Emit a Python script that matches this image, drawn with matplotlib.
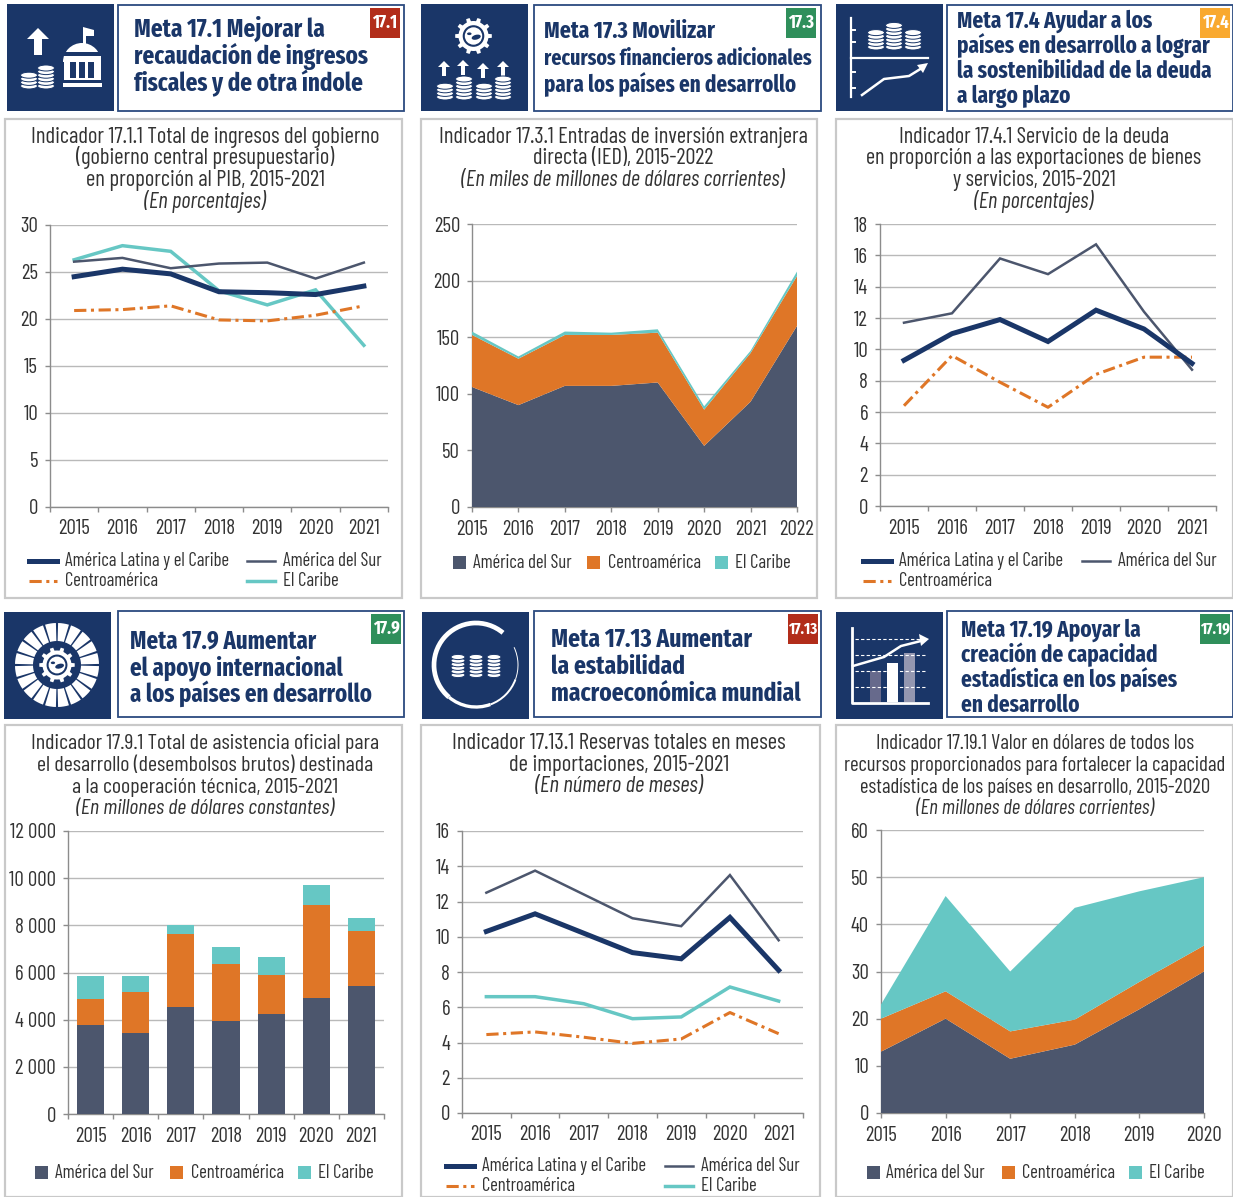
import matplotlib
matplotlib.use('Agg')
import numpy as np
from matplotlib import pyplot as plt
from matplotlib.patches import Rectangle, Circle, Ellipse, Wedge, Polygon, Arc

W, H = 1233, 1197
NAVY = '#1a3668'
SUR = '#4c566d'
ORANGE = '#df7627'
TEAL = '#66c7c4'
TXT = '#333333'
RED = '#b22d1a'
GREEN = '#2f8f5b'
AMBER = '#f9a92f'
BODY = ['Barlow Condensed', 'Roboto Condensed', 'Liberation Sans Narrow', 'DejaVu Sans']
HEAD = ['Fira Sans Extra Condensed', 'Fira Sans Condensed', 'Roboto Condensed', 'DejaVu Sans']
plt.rcParams['font.family'] = BODY
TICK_SIZE = 15
LEG_SIZE = 13.4

# datos
years_15_21 = ['2015', '2016', '2017', '2018', '2019', '2020', '2021']
years_15_22 = years_15_21 + ['2022']
years_15_20 = years_15_21[:-1]

p1_lac = [24.5, 25.3, 24.8, 22.9, 22.8, 22.6, 23.5]
p1_sur = [26.1, 26.5, 25.4, 25.9, 26.0, 24.3, 26.0]
p1_cen = [20.9, 21.0, 21.4, 19.9, 19.8, 20.4, 21.4]
p1_car = [26.3, 27.8, 27.2, 23.0, 21.5, 23.1, 17.2]

p2_sur = [106, 90, 107, 107, 110, 54, 93, 160]
p2_cen = [46, 41, 45, 45, 44, 32, 43, 44]
p2_car = [3, 2, 3, 2, 3, 3, 2, 4]

p3_lac = [9.3, 11.0, 11.9, 10.5, 12.5, 11.3, 9.1]
p3_sur = [11.7, 12.3, 15.8, 14.8, 16.7, 12.4, 8.7]
p3_cen = [6.4, 9.6, 7.9, 6.3, 8.4, 9.5, 9.5]

p4_sur = [3780, 3420, 4520, 3950, 4230, 4920, 5430]
p4_cen = [1090, 1760, 3130, 2420, 1650, 3930, 2320]
p4_car = [980, 670, 350, 720, 780, 870, 540]

p5_lac = [10.3, 11.3, 10.2, 9.1, 8.75, 11.1, 8.1]
p5_sur = [12.5, 13.75, 12.4, 11.05, 10.6, 13.5, 9.8]
p5_cen = [4.45, 4.6, 4.3, 3.95, 4.2, 5.7, 4.5]
p5_car = [6.6, 6.6, 6.2, 5.35, 5.45, 7.15, 6.35]

p6_sur = [13, 20, 11.5, 14.5, 22, 30]
p6_cen = [7, 5.8, 5.8, 5.3, 5.8, 5.5]
p6_car = [3, 20.2, 12.7, 23.7, 19.2, 14.5]

ticks_p1 = [0, 5, 10, 15, 20, 25, 30]
ticks_p2 = [0, 50, 100, 150, 200, 250]
ticks_p3 = [0, 2, 4, 6, 8, 10, 12, 14, 16, 18]
ticks_p4 = [0, 2000, 4000, 6000, 8000, 10000, 12000]
labels_p4 = ['0', '2 000', '4 000', '6 000', '8 000', '10 000', '12 000']
ticks_p5 = [0, 2, 4, 6, 8, 10, 12, 14, 16]
ticks_p6 = [0, 10, 20, 30, 40, 50, 60]

name_lac = 'América Latina y el Caribe'
name_sur = 'América del Sur'
name_cen = 'Centroamérica'
name_car = 'El Caribe'

fig = plt.figure(figsize=(W / 100, H / 100), dpi=100, facecolor='white')
bg = fig.add_axes([0, 0, 1, 1])
bg.set_xlim(0, W)
bg.set_ylim(H, 0)
bg.axis('off')


def rect(x0, y0, x1, y1, **kw):
    bg.add_patch(Rectangle((x0, y0), x1 - x0, y1 - y0, **kw))


def chart_axes(x0, y0, x1, y1):
    ax = fig.add_axes([x0 / W, 1 - y1 / H, (x1 - x0) / W, (y1 - y0) / H])
    ax.patch.set_alpha(0)
    for s in ['top', 'right']:
        ax.spines[s].set_visible(False)
    for s in ['left', 'bottom']:
        ax.spines[s].set_color('#8c8c8c')
        ax.spines[s].set_linewidth(1)
    ax.grid(axis='y', color='#b9b9b9', lw=1)
    ax.set_axisbelow(True)
    ax.tick_params(axis='both', which='major', length=3.6, color='#8c8c8c', width=1,
                   labelsize=TICK_SIZE, labelcolor=TXT)
    return ax


def cat_axis(ax, years, yticks, ylabels=None):
    # marcas entre categorias, etiquetas centradas
    n = len(years)
    ax.set_xlim(-0.5, n - 0.5)
    ax.set_xticks(np.arange(n + 1) - 0.5)
    ax.set_xticklabels([])
    ax.set_xticks(range(n), years, minor=True)
    ax.tick_params(axis='x', which='minor', length=0, labelsize=TICK_SIZE, labelcolor=TXT, pad=9)
    ax.set_yticks(yticks, ylabels if ylabels else [str(t) for t in yticks])
    ax.set_ylim(yticks[0], yticks[-1])
    ax.tick_params(axis='y', pad=5)


def draw_lines(ax, lac, sur, cen, car=None):
    x = range(len(sur))
    if car is not None:
        ax.plot(x, car, color=TEAL, lw=2.5, solid_joinstyle='miter')
    ax.plot(x, sur, color=SUR, lw=1.8, solid_joinstyle='miter')
    ax.plot(x, cen, color=ORANGE, lw=2.2, ls=(0, (4, 1.5, 1, 1.5)))
    ax.plot(x, lac, color=NAVY, lw=3.6, solid_joinstyle='miter')


def draw_area(ax, years, sur, cen, car, yticks):
    x = range(len(years))
    ax.stackplot(x, sur, cen, car, colors=[SUR, ORANGE, TEAL], zorder=3)
    ax.set_xlim(0, len(years) - 1)
    ax.set_xticks(list(x), years)
    ax.set_yticks(yticks, [str(t) for t in yticks])
    ax.set_ylim(yticks[0], yticks[-1])
    ax.tick_params(axis='x', pad=6)
    ax.tick_params(axis='y', pad=5)


def line_legend(x1, x2, y1, y2, car=False):
    rows = [(x1, y1, NAVY, 3.6, '-', name_lac),
            (x2, y1, SUR, 1.8, '-', name_sur),
            (x1, y2, ORANGE, 2.2, (0, (4, 1.5, 1, 1.5)), name_cen)]
    if car:
        rows.append((x2, y2, TEAL, 2.5, '-', name_car))
    for x, y, c, lw, ls, name in rows:
        bg.plot([x, x + 28], [y, y], color=c, lw=lw, ls=ls)
        bg.text(x + 36, y, name, fontsize=LEG_SIZE, color=TXT, va='center')


def square_legend(xs, txs, y):
    for x, tx, c, name in zip(xs, txs, [SUR, ORANGE, TEAL], [name_sur, name_cen, name_car]):
        rect(x, y - 6.5, x + 13, y + 6.5, fc=c, ec='none')
        bg.text(tx, y + 1, name, fontsize=LEG_SIZE, color=TXT, va='center')


def header(ix, iy, bx0, by0, bx1, by1, size, lines, tx, baselines, badge, bcol, bx):
    rect(ix, iy, ix + 107, iy + 107, fc=NAVY, ec='none')
    rect(bx0, by0, bx1, by1, fc='white', ec='#2b4a7f', lw=1.3)
    sizes = size if isinstance(size, list) else [size] * len(lines)
    for s, y, fs in zip(lines, baselines, sizes):
        bg.text(tx, y, s, fontsize=fs, fontweight='bold', color=NAVY, va='baseline', family=HEAD)
    by = by0 + 3
    rect(bx, by, bx + 30, by + 30, fc=bcol, ec='none')
    bg.text(bx + 15, by + 15, badge, fontsize=13 if len(badge) < 5 else 11.5, fontweight='bold',
            color='white', ha='center', va='center', family=HEAD)


def panel(x0, y0, x1, y1, cx, size, lines, baselines):
    rect(x0, y0, x1, y1, fc='white', ec='#c9c9c9', lw=1.6)
    for s, y in zip(lines, baselines):
        italic = s.startswith('(En')
        bg.text(cx, y + 1, s, fontsize=size, color=TXT, ha='center', va='baseline',
                style='italic' if italic else 'normal')


# iconos
def coins(cx, bottom, n, rx=8.5, ry=3):
    for i in range(n):
        y = bottom - i * 3.6
        bg.add_patch(Ellipse((cx, y), rx * 2, ry * 2, fc='white', ec=NAVY, lw=0.7, zorder=3 + i * 0.01))


def arrow_up(cx, y0, y1, w=6, head=11, hh=9):
    bg.add_patch(Polygon([(cx - w / 2, y1), (cx - w / 2, y0 + hh), (cx - head, y0 + hh), (cx, y0),
                          (cx + head, y0 + hh), (cx + w / 2, y0 + hh), (cx + w / 2, y1)], fc='white', ec='none'))


def gear_globe(cx, cy, r, teeth=10):
    for a in np.arange(teeth) * 2 * np.pi / teeth:
        d = np.array([np.cos(a), np.sin(a)])
        n = np.array([-d[1], d[0]])
        p = [(cx, cy) + d * r * 0.9 + n * r * 0.15, (cx, cy) + d * r * 1.22 + n * r * 0.12,
             (cx, cy) + d * r * 1.22 - n * r * 0.12, (cx, cy) + d * r * 0.9 - n * r * 0.15]
        bg.add_patch(Polygon(p, fc='white', ec='none', zorder=3))
    bg.add_patch(Circle((cx, cy), r, fc='white', ec='none', zorder=3))
    bg.add_patch(Circle((cx, cy), r * 0.72, fc=NAVY, ec='none', zorder=3))
    bg.add_patch(Circle((cx, cy), r * 0.58, fc='white', ec='none', zorder=3))
    bg.add_patch(Ellipse((cx + r * 0.18, cy + r * 0.08), r * 0.62, r * 0.32, angle=-15, fc=NAVY, ec='none', zorder=3))
    bg.add_patch(Ellipse((cx - r * 0.28, cy - r * 0.15), r * 0.3, r * 0.18, fc=NAVY, ec='none', zorder=3))


def icon_171():
    arrow_up(38, 28, 55, w=8, head=11, hh=11)
    coins(29, 86, 4)
    coins(46, 86, 6)
    bg.add_patch(Wedge((82, 62), 19, 180, 360, fc='white', ec='none'))
    bg.add_patch(Polygon([(83, 44), (83, 27), (94, 30), (94, 36), (86, 36), (86, 44)], fc='white', ec='none'))
    rect(64, 52, 101, 56, fc=NAVY, ec='none')
    rect(64, 56, 101, 80, fc='white', ec='none')
    for x in [70, 79, 88]:
        rect(x, 62, x + 6, 78, fc=NAVY, ec='none')
    rect(63, 83, 102, 87, fc='white', ec='none')


def icon_173():
    gear_globe(473.5, 36, 15)
    for x, y0 in [(444, 61), (463, 60), (483, 63), (503, 61)]:
        arrow_up(x, y0, y0 + 15, w=4, head=6, hh=6)
    for x, n in [(445, 4), (464, 6), (484, 4), (503, 6)]:
        coins(x, 97, n)


def icon_174():
    bg.plot([851, 851], [18, 97], color='white', lw=1.6)
    bg.plot([851, 928], [58, 58], color='white', lw=1.6)
    for y in [30, 42, 72, 88]:
        bg.plot([851, 855], [y, y], color='white', lw=1.4)
    for x, n in [(876, 5), (894, 7), (913, 5)]:
        coins(x, 47, n)
    bg.plot([862, 884, 909, 922], [95, 79, 76, 68], color='white', lw=1.8)
    bg.add_patch(Polygon([(928, 63), (917, 65), (923, 73)], fc='white', ec='none'))


def icon_179():
    cx, cy = 57, 665
    for a in np.arange(20) * 18.0:
        bg.add_patch(Wedge((cx, cy), 42, a + 1.5, a + 16.5, width=18, fc='white', ec='none'))
    gear_globe(cx, cy, 14.5)


def icon_1713():
    cx, cy = 476, 665
    # aro que se adelgaza hacia la derecha
    for t1, t2, lw in [(130, 310, 3.4), (70, 130, 2.4), (20, 70, 1.4), (-25, 20, 0.7)]:
        bg.add_patch(Arc((cx, cy), 84, 84, theta1=t1, theta2=t2, color='white', lw=lw))
    for x in [458, 476, 494]:
        coins(x, 675, 6, rx=7, ry=2.6)


def icon_1719():
    bg.plot([852, 852, 928], [628, 703, 703], color='white', lw=2)
    for y in [639, 655, 671, 687]:
        bg.plot([855, 925], [y, y], color='white', lw=0.8, ls=(0, (3, 2)))
    rect(870, 671, 881, 702, fc='#676a8c', ec='none')
    rect(887, 663, 898, 702, fc='white', ec='none')
    rect(904, 653, 915, 702, fc='#9497b0', ec='none')
    bg.plot([853, 884, 901, 925], [666, 657, 646, 640], color='white', lw=1.8)
    bg.add_patch(Polygon([(929, 639), (919, 634), (921, 646)], fc='white', ec='none'))


# encabezados
header(7, 4, 118, 5, 404, 111, 18.1, ['Meta 17.1 Mejorar la', 'recaudación de ingresos', 'fiscales y de otra índole'],
       134, [37, 64, 91], '17.1', RED, 370)
header(421, 4, 534, 5, 821, 111, [17, 15.6, 16.4], ['Meta 17.3 Movilizar', 'recursos financieros adicionales', 'para los países en desarrollo'],
       544, [38, 65, 92], '17.3', GREEN, 786)
header(836, 4, 947, 5, 1233, 111, 16.6, ['Meta 17.4 Ayudar a los', 'países en desarrollo a lograr', 'la sostenibilidad de la deuda', 'a largo plazo'],
       957, [28, 53, 78, 103], '17.4', AMBER, 1200)
header(4, 612, 118, 611, 404, 717, 17.8, ['Meta 17.9 Aumentar', 'el apoyo internacional', 'a los países en desarrollo'],
       130, [648, 675, 702], '17.9', GREEN, 371)
header(422, 612, 534, 611, 821, 717, 18.4, ['Meta 17.13 Aumentar', 'la estabilidad', 'macroeconómica mundial'],
       551, [647, 674, 701], '17.13', RED, 788)
header(836, 612, 947, 611, 1233, 717, 16.6, ['Meta 17.19 Apoyar la', 'creación de capacidad', 'estadística en los países', 'en desarrollo'],
       961, [637, 662, 687, 712], '17.19', GREEN, 1200)
icon_171()
icon_173()
icon_174()
icon_179()
icon_1713()
icon_1719()

# paneles
panel(5, 119, 402, 598, 205, 16.3, ['Indicador 17.1.1 Total de ingresos del gobierno', '(gobierno central presupuestario)',
                                    'en proporción al PIB, 2015-2021', '(En porcentajes)'], [142, 163, 185, 207])
panel(421, 119, 817, 598, 623, 16.2, ['Indicador 17.3.1 Entradas de inversión extranjera', 'directa (IED), 2015-2022',
                                      '(En miles de millones de dólares corrientes)'], [142, 163, 185])
panel(836, 119, 1233, 598, 1034, 16, ['Indicador 17.4.1 Servicio de la deuda', 'en proporción a las exportaciones de bienes',
                                      'y servicios, 2015-2021', '(En porcentajes)'], [142, 163, 185, 207])
panel(5, 725, 402, 1197, 205, 15.9, ['Indicador 17.9.1 Total de asistencia oficial para', 'el desarrollo (desembolsos brutos) destinada',
                                     'a la cooperación técnica, 2015-2021', '(En millones de dólares constantes)'], [748, 770, 792, 813])
panel(421, 725, 820, 1197, 619, 16.5, ['Indicador 17.13.1 Reservas totales en meses', 'de importaciones, 2015-2021',
                                       '(En número de meses)'], [748, 770, 791])
panel(836, 725, 1233, 1197, 1035, 15, ['Indicador 17.19.1 Valor en dólares de todos los', 'recursos proporcionados para fortalecer la capacidad',
                                       'estadística de los países en desarrollo, 2015-2020', '(En millones de dólares corrientes)'], [748, 770, 792, 813])

# graficos
ax = chart_axes(50, 225, 388, 507)
cat_axis(ax, years_15_21, ticks_p1)
draw_lines(ax, p1_lac, p1_sur, p1_cen, p1_car)
line_legend(29, 247, 561, 581, car=True)

ax = chart_axes(472, 224, 797, 507)
draw_area(ax, years_15_22, p2_sur, p2_cen, p2_car, ticks_p2)
square_legend([453, 587, 715], [473, 608, 735], 562)

ax = chart_axes(880, 224, 1216, 506)
cat_axis(ax, years_15_21, ticks_p3)
draw_lines(ax, p3_lac, p3_sur, p3_cen)
line_legend(863, 1082, 561, 581)

ax = chart_axes(68, 831, 384, 1114)
cat_axis(ax, years_15_21, ticks_p4, labels_p4)
x = np.arange(7)
b1 = np.array(p4_sur)
b2 = b1 + np.array(p4_cen)
ax.bar(x, p4_sur, width=0.6, color=SUR, zorder=3)
ax.bar(x, p4_cen, bottom=b1, width=0.6, color=ORANGE, zorder=3)
ax.bar(x, p4_car, bottom=b2, width=0.6, color=TEAL, zorder=3)
square_legend([35, 170, 298], [55, 191, 318], 1172)

ax = chart_axes(462, 831, 803, 1113)
cat_axis(ax, years_15_21, ticks_p5)
draw_lines(ax, p5_lac, p5_sur, p5_cen, p5_car)
line_legend(446, 665, 1166, 1186, car=True)

ax = chart_axes(881, 830, 1204, 1113)
draw_area(ax, years_15_20, p6_sur, p6_cen, p6_car, ticks_p6)
square_legend([867, 1002, 1129], [886, 1022, 1149], 1172)

fig.savefig('out.png', dpi=100)
